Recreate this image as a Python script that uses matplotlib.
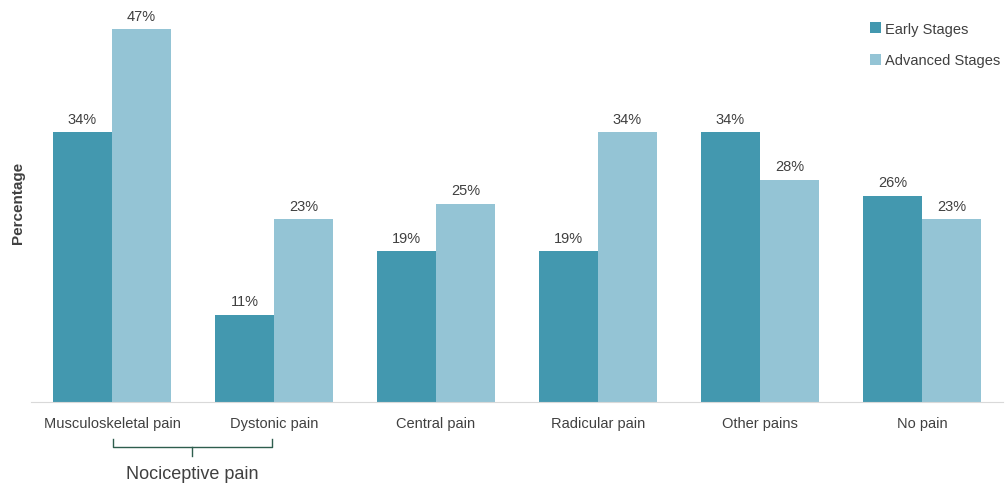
import matplotlib
matplotlib.use("Agg")
import matplotlib.pyplot as plt
import numpy as np

categories = ["Musculoskeletal pain", "Dystonic pain", "Central pain",
              "Radicular pain", "Other pains", "No pain"]
early = [34, 11, 19, 19, 34, 26]
advanced = [47, 23, 25, 34, 28, 23]
series_names = ["Early Stages", "Advanced Stages"]

plt.rcParams['font.family'] = ['Liberation Sans', 'DejaVu Sans']
txt = '#404040'
c_early = '#4398AF'
c_adv = '#94C4D5'

fig = plt.figure(figsize=(10.06, 4.89), dpi=100)
W, H = 1006, 489
ax = fig.add_axes([31 / W, (H - 403) / H, 972 / W, 403 / H])

x = np.arange(len(categories))
bw = 0.364
b1 = ax.bar(x - bw / 2, early, bw, color=c_early, label=series_names[0])
b2 = ax.bar(x + bw / 2, advanced, bw, color=c_adv, label=series_names[1])
for bars, vals in ((b1, early), (b2, advanced)):
    for r, v in zip(bars, vals):
        ax.text(r.get_x() + r.get_width() / 2, v + 0.8, f"{v}%", ha='center',
                va='bottom', fontsize=10.5, color=txt)

ax.set_xlim(-0.5, len(categories) - 0.5)
ax.set_ylim(0, 50.76)
ax.set_yticks([])
ax.set_xticks(x)
ax.set_xticklabels(categories, fontsize=10.5, color=txt)
ax.tick_params(axis='x', length=0, pad=10)
for s in ['top', 'right', 'left']:
    ax.spines[s].set_visible(False)
ax.spines['bottom'].set_color('#D9D9D9')

fig.text(18 / W, 1 - 203 / H, "Percentage", rotation=90, ha='center', va='center',
         fontsize=11, fontweight='bold', color=txt)

leg = ax.legend(loc='upper right', bbox_to_anchor=(1.003, 0.958), frameon=False,
                fontsize=10.5, handlelength=0.75, handleheight=0.75, handletextpad=0.25,
                labelspacing=1.2, borderaxespad=0)
for t in leg.get_texts():
    t.set_color(txt)

# bracket for Nociceptive pain
bc = '#2E5E4E'
xl, xr, xm = 113 / W, 272 / W, 192 / W
yt, yh, yb = 1 - 440 / H, 1 - 448 / H, 1 - 457 / H
fig.add_artist(plt.Line2D([xl, xl, xr, xr], [yt, yh, yh, yt], color=bc, lw=1,
                          transform=fig.transFigure))
fig.add_artist(plt.Line2D([xm, xm], [yh, yb], color=bc, lw=1, transform=fig.transFigure))
fig.text(xm, 1 - 475 / H, "Nociceptive pain", ha='center', va='center',
         fontsize=13, color=txt)

fig.savefig("out.png", dpi=100)
